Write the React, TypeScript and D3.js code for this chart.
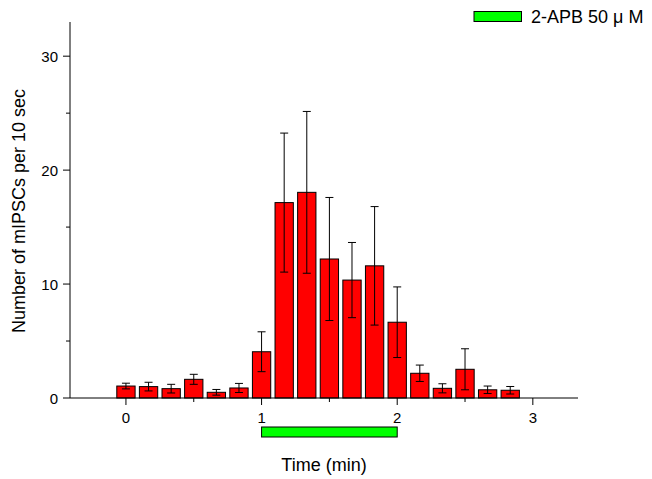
import React from "react";
import * as d3 from "d3";

// Bin start times (seconds) — categories
const binStartSec = [0, 10, 20, 30, 40, 50, 60, 70, 80, 90, 100, 110, 120, 130, 140, 150, 160, 170];
// Mean number of mIPSCs per 10 sec
const counts = [1.05, 1.0, 0.82, 1.64, 0.5, 0.88, 4.06, 17.15, 18.05, 12.2, 10.35, 11.6, 6.65, 2.17, 0.85, 2.52, 0.72, 0.68];
// Error (SEM)
const errors = [0.25, 0.38, 0.38, 0.44, 0.25, 0.4, 1.75, 6.1, 7.1, 5.4, 3.3, 5.2, 3.1, 0.72, 0.4, 1.8, 0.33, 0.33];

const xMajorTicks = [0, 1, 2, 3];
const xMinorTicks = [0.5, 1.5, 2.5];
const yMajorTicks = [0, 10, 20, 30];
const yMinorTicks = [5, 15, 25];

// Drug application period (min)
const drugStart = 1;
const drugEnd = 2;
const drugLabel = "2-APB 50 \u03bc M";

const xLabel = "Time (min)";
const yLabel = "Number of mIPSCs per 10 sec";

const W = 652;
const H = 479;
const left = 70;
const right = 578;
const top = 22;
const bottom = 398;

export default function App() {
  const x = d3.scaleLinear().domain([-0.4125, 3.333]).range([left, right]);
  const y = d3.scaleLinear().domain([0, 33]).range([bottom, top]);
  const barW = x(0.135) - x(0);
  const capW = 8;
  const font = "'Liberation Sans', Arial, sans-serif";

  return (
    <svg width={W} height={H} style={{ position: "absolute", left: 0, top: 0 }} fontFamily={font}>
      <rect width={W} height={H} fill="#fff" />
      {/* bars */}
      {binStartSec.map((s, i) => {
        const t = s / 60;
        const cx = x(t);
        return (
          <rect
            key={"b" + i}
            x={cx - barW / 2}
            y={y(counts[i])}
            width={barW}
            height={y(0) - y(counts[i])}
            fill="#ff0000"
            stroke="#000"
            strokeWidth={1}
          />
        );
      })}
      {/* error bars */}
      {binStartSec.map((s, i) => {
        const cx = x(s / 60);
        const hi = y(counts[i] + errors[i]);
        const lo = y(counts[i] - errors[i]);
        return (
          <g key={"e" + i} stroke="#000" strokeWidth={1}>
            <line x1={cx} x2={cx} y1={hi} y2={lo} />
            <line x1={cx - capW / 2} x2={cx + capW / 2} y1={hi} y2={hi} />
            <line x1={cx - capW / 2} x2={cx + capW / 2} y1={lo} y2={lo} />
          </g>
        );
      })}
      {/* axes */}
      <line x1={left} x2={right} y1={bottom} y2={bottom} stroke="#000" strokeWidth={1} />
      <line x1={left} x2={left} y1={top} y2={bottom} stroke="#000" strokeWidth={1} />
      {xMajorTicks.map((t) => (
        <g key={"xt" + t}>
          <line x1={x(t)} x2={x(t)} y1={bottom} y2={bottom + 7} stroke="#000" />
          <text x={x(t)} y={bottom + 25} textAnchor="middle" fontSize={15}>
            {t}
          </text>
        </g>
      ))}
      {xMinorTicks.map((t) => (
        <line key={"xm" + t} x1={x(t)} x2={x(t)} y1={bottom} y2={bottom + 4} stroke="#000" />
      ))}
      {yMajorTicks.map((t) => (
        <g key={"yt" + t}>
          <line x1={left - 7} x2={left} y1={y(t)} y2={y(t)} stroke="#000" />
          <text x={left - 12} y={y(t) + 5.5} textAnchor="end" fontSize={15}>
            {t}
          </text>
        </g>
      ))}
      {yMinorTicks.map((t) => (
        <line key={"ym" + t} x1={left - 4} x2={left} y1={y(t)} y2={y(t)} stroke="#000" />
      ))}
      {/* drug bar */}
      <rect
        x={x(drugStart)}
        y={427}
        width={x(drugEnd) - x(drugStart)}
        height={10}
        fill="#00ff00"
        stroke="#000"
        strokeWidth={1}
      />
      {/* legend */}
      <rect x={474} y={11.5} width={47.5} height={10} fill="#00ff00" stroke="#000" strokeWidth={1} />
      <text x={531} y={23} fontSize={18}>
        {drugLabel}
      </text>
      {/* axis titles */}
      <text x={324} y={471} textAnchor="middle" fontSize={18}>
        {xLabel}
      </text>
      <text
        transform={`translate(25, 211) rotate(-90)`}
        textAnchor="middle"
        fontSize={18}
      >
        {yLabel}
      </text>
    </svg>
  );
}
